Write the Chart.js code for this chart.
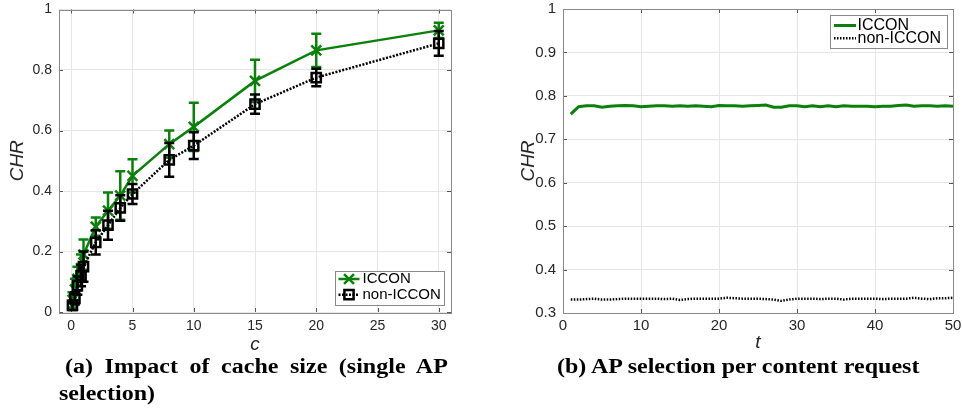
<!DOCTYPE html>
<html>
<head>
<meta charset="utf-8">
<script src="https://cdn.jsdelivr.net/npm/chart.js@4/dist/chart.umd.min.js"></script>
<style>
  html, body { margin: 0; padding: 0; background: #fff; }
  body { width: 962px; height: 411px; position: relative; overflow: hidden; }
  canvas { position: absolute; top: 0; }
  #cacheChart { left: 0; }
  #stepChart { left: 480px; }
  .caption {
    position: absolute;
    font-family: "Liberation Serif", "Times New Roman", serif;
    font-weight: bold;
    font-size: 20px;
    line-height: 27px;
    color: #000;
    transform: scaleX(1.2);
    transform-origin: 0 0;
    white-space: nowrap;
  }
  .just { text-align: justify; text-align-last: justify; white-space: normal; }
</style>
</head>
<body>
<canvas id="cacheChart" width="470" height="360"></canvas>
<canvas id="stepChart" width="482" height="360"></canvas>
<div class="caption just" style="left:65px; top:353px; width:319px;">(a) Impact of cache size (single AP</div>
<div class="caption" style="left:59px; top:380px;">selection)</div>
<div class="caption" style="left:557px; top:353px;">(b) AP selection per content request</div>

<script>
// (a) cache hit ratio against cache size c, mean with error bars
const cacheSizes   = [0.1, 0.3, 0.5, 0.8, 1, 2, 3, 4, 5, 8, 10, 15, 20, 30];
const icconChr     = [0.040, 0.075, 0.110, 0.145, 0.190, 0.282, 0.335, 0.385, 0.450, 0.555, 0.612, 0.764, 0.865, 0.931];
const icconErr     = [0.025, 0.035, 0.040, 0.045, 0.050, 0.030, 0.060, 0.080, 0.055, 0.045, 0.080, 0.070, 0.055, 0.025];
const nonIcconChr  = [0.022, 0.045, 0.087, 0.120, 0.150, 0.230, 0.287, 0.344, 0.390, 0.503, 0.550, 0.687, 0.775, 0.888];
const nonIcconErr  = [0.015, 0.020, 0.030, 0.035, 0.050, 0.040, 0.048, 0.042, 0.033, 0.056, 0.044, 0.032, 0.029, 0.041];
const cacheTicks   = [0, 5, 10, 15, 20, 25, 30];
const chrTicksA    = [0, 0.2, 0.4, 0.6, 0.8, 1];

// (b) cache hit ratio per content request step t
const steps = [1, 2, 3, 4, 5, 6, 7, 8, 9, 10, 11, 12, 13, 14, 15, 16, 17, 18, 19, 20,
               21, 22, 23, 24, 25, 26, 27, 28, 29, 30, 31, 32, 33, 34, 35, 36, 37, 38, 39, 40,
               41, 42, 43, 44, 45, 46, 47, 48, 49, 50];
const icconStep = [0.758, 0.775, 0.777, 0.777, 0.774, 0.776, 0.777, 0.778, 0.777, 0.775,
                   0.776, 0.777, 0.777, 0.776, 0.777, 0.776, 0.777, 0.776, 0.775, 0.778,
                   0.777, 0.777, 0.776, 0.777, 0.778, 0.779, 0.774, 0.774, 0.777, 0.777,
                   0.775, 0.777, 0.775, 0.777, 0.775, 0.777, 0.776, 0.776, 0.776, 0.775,
                   0.776, 0.776, 0.778, 0.779, 0.776, 0.777, 0.777, 0.776, 0.777, 0.776];
const nonIcconStep = [0.331, 0.331, 0.332, 0.333, 0.331, 0.331, 0.332, 0.333, 0.333, 0.333,
                      0.333, 0.333, 0.332, 0.333, 0.330, 0.332, 0.333, 0.333, 0.333, 0.333,
                      0.335, 0.334, 0.333, 0.333, 0.333, 0.332, 0.331, 0.328, 0.331, 0.333,
                      0.333, 0.333, 0.332, 0.333, 0.333, 0.331, 0.333, 0.333, 0.333, 0.333,
                      0.332, 0.333, 0.333, 0.333, 0.335, 0.333, 0.332, 0.334, 0.334, 0.335];
const stepTicks = [0, 10, 20, 30, 40, 50];
const chrTicksB = [0.3, 0.4, 0.5, 0.6, 0.7, 0.8, 0.9, 1];

const seriesNames = ['ICCON', 'non-ICCON'];

const GREEN = '#0b800b';
const BLACK = '#000000';
const TEXT = '#262626';
const GRID = '#e6e6e6';
const EDGE = '#8a8a8a';

const pairs = (xs, ys) => xs.map((x, i) => ({ x: x, y: ys[i] }));
const fmt = v => String(Math.round(v * 10) / 10);

// axis helpers: fixed tick lists and fixed axis box sizes
const useTicks = list => scale => { scale.ticks = list.map(v => ({ value: v })); };
const fixX = h => s => { s.height = h; s.paddingLeft = 0; s.paddingRight = 0; };
const fixY = w => s => { s.width = w; s.paddingTop = 0; s.paddingBottom = 0; };

// box around the plot area with inward tick marks
const frame = {
  id: 'frame',
  beforeDatasetsDraw(chart, args, o) {
    const { ctx, chartArea: a } = chart;
    const xs = chart.scales.x, ys = chart.scales.y;
    ctx.save();
    ctx.lineWidth = 1;
    ctx.strokeStyle = o.tickColor;
    ctx.beginPath();
    xs.ticks.forEach(t => {
      const px = Math.round(xs.getPixelForValue(t.value)) + 0.5;
      ctx.moveTo(px, a.bottom); ctx.lineTo(px, a.bottom - o.tickLen);
      ctx.moveTo(px, a.top); ctx.lineTo(px, a.top + o.tickLen);
    });
    ys.ticks.forEach(t => {
      const py = Math.round(ys.getPixelForValue(t.value)) + 0.5;
      ctx.moveTo(a.left, py); ctx.lineTo(a.left + o.tickLen, py);
      ctx.moveTo(a.right, py); ctx.lineTo(a.right - o.tickLen, py);
    });
    ctx.stroke();
    ctx.strokeStyle = o.color;
    ctx.strokeRect(Math.round(a.left) + 0.5, Math.round(a.top) + 0.5,
                   Math.round(a.right - a.left), Math.round(a.bottom - a.top));
    ctx.restore();
  }
};

// vertical error bars with caps, drawn under each dataset's line and markers
const errorBars = {
  id: 'errorBars',
  beforeDatasetDraw(chart, args, o) {
    const ds = chart.data.datasets[args.index];
    if (!ds.errors) return;
    const { ctx } = chart;
    const xs = chart.scales.x, ys = chart.scales.y;
    ctx.save();
    ctx.strokeStyle = ds.borderColor;
    ctx.lineWidth = o.width;
    ctx.setLineDash([]);
    ctx.beginPath();
    ds.data.forEach((p, i) => {
      const e = ds.errors[i];
      const px = xs.getPixelForValue(p.x);
      const top = ys.getPixelForValue(p.y + e);
      const bot = ys.getPixelForValue(p.y - e);
      ctx.moveTo(px, top); ctx.lineTo(px, bot);
      ctx.moveTo(px - o.cap, top); ctx.lineTo(px + o.cap, top);
      ctx.moveTo(px - o.cap, bot); ctx.lineTo(px + o.cap, bot);
    });
    ctx.stroke();
    ctx.restore();
  }
};

function drawMarker(ctx, style, r, x, y) {
  ctx.beginPath();
  if (style === 'rect') {
    const s = Math.SQRT1_2 * r;
    ctx.rect(x - s, y - s, 2 * s, 2 * s);
  } else if (style === 'crossRot') {
    const s = Math.SQRT1_2 * r;
    ctx.moveTo(x - s, y - s); ctx.lineTo(x + s, y + s);
    ctx.moveTo(x - s, y + s); ctx.lineTo(x + s, y - s);
  }
  ctx.stroke();
}

// boxed legend placed inside a corner of the plot area
const boxLegend = {
  id: 'boxLegend',
  afterDraw(chart, args, o) {
    const { ctx, chartArea: a } = chart;
    const left = a.right - o.inset - o.width;
    const top = o.corner === 'top' ? a.top + o.inset : a.bottom - o.inset - o.height;
    ctx.save();
    ctx.fillStyle = '#fff';
    ctx.fillRect(left, top, o.width, o.height);
    ctx.strokeStyle = o.edge;
    ctx.lineWidth = 1;
    ctx.strokeRect(Math.round(left) + 0.5, Math.round(top) + 0.5, Math.round(o.width), Math.round(o.height));
    ctx.font = o.font;
    ctx.textBaseline = 'middle';
    ctx.textAlign = 'left';
    chart.data.datasets.forEach((ds, i) => {
      const cy = top + o.rowTop + i * o.rowGap;
      ctx.strokeStyle = ds.borderColor;
      ctx.lineWidth = ds.borderWidth;
      ctx.setLineDash(ds.borderDash || []);
      ctx.beginPath();
      ctx.moveTo(left + o.lineFrom, cy);
      ctx.lineTo(left + o.lineTo, cy);
      ctx.stroke();
      ctx.setLineDash([]);
      if (ds.pointRadius > 0) {
        ctx.lineWidth = ds.pointBorderWidth;
        drawMarker(ctx, ds.pointStyle, ds.pointRadius, left + (o.lineFrom + o.lineTo) / 2, cy);
      }
      ctx.fillStyle = o.textColor;
      ctx.fillText(ds.label, left + o.textX, cy);
    });
    ctx.restore();
  }
};

Chart.register(frame, errorBars, boxLegend);

function axisTitle(text, size, pad) {
  return { display: true, text: text, color: TEXT, padding: pad,
           font: { family: '"Liberation Sans", Arial, sans-serif', size: size, style: 'italic' } };
}
function tickFont(size) {
  return { family: '"Liberation Sans", Arial, sans-serif', size: size };
}

new Chart(document.getElementById('cacheChart'), {
  type: 'line',
  data: {
    datasets: [
      {
        label: seriesNames[0],
        data: pairs(cacheSizes, icconChr),
        errors: icconErr,
        borderColor: GREEN,
        borderWidth: 2.5,
        pointStyle: 'crossRot',
        pointRadius: 7,
        pointBorderWidth: 2.5,
        pointBorderColor: GREEN,
        pointBackgroundColor: 'rgba(0,0,0,0)',
        tension: 0,
        order: 1
      },
      {
        label: seriesNames[1],
        data: pairs(cacheSizes, nonIcconChr),
        errors: nonIcconErr,
        borderColor: BLACK,
        borderWidth: 2.5,
        borderDash: [2, 1.5],
        pointStyle: 'rect',
        pointRadius: 6.5,
        pointBorderWidth: 2.5,
        pointBorderColor: BLACK,
        pointBackgroundColor: 'rgba(0,0,0,0)',
        tension: 0,
        order: 0
      }
    ]
  },
  options: {
    responsive: false,
    animation: false,
    layout: { padding: { left: 0, top: 8, right: 19, bottom: 0 } },
    scales: {
      x: {
        type: 'linear', min: -1, max: 31,
        afterBuildTicks: useTicks(cacheTicks),
        afterFit: fixX(48),
        grid: { color: GRID, drawTicks: false },
        border: { display: false },
        ticks: { color: TEXT, font: tickFont(14), padding: 6, maxRotation: 0, autoSkip: false, callback: fmt },
        title: axisTitle('c', 19, { top: 0, bottom: 4 })
      },
      y: {
        type: 'linear', min: 0, max: 1,
        afterBuildTicks: useTicks(chrTicksA),
        afterFit: fixY(59),
        grid: { color: GRID, drawTicks: false },
        border: { display: false },
        ticks: { color: TEXT, font: tickFont(14), padding: 7, autoSkip: false, callback: fmt },
        title: axisTitle('CHR', 19, { top: 6, bottom: 0 })
      }
    },
    plugins: {
      legend: { display: false },
      tooltip: { enabled: false },
      frame: { color: EDGE, tickColor: '#555', tickLen: 4 },
      errorBars: { width: 2.5, cap: 5 },
      boxLegend: {
        corner: 'bottom', inset: 7.5, width: 109, height: 34,
        rowTop: 8.5, rowGap: 15.7, lineFrom: 4, lineTo: 25, textX: 28,
        font: '15px "Liberation Sans", Arial, sans-serif', textColor: '#000', edge: EDGE
      }
    }
  }
});

new Chart(document.getElementById('stepChart'), {
  type: 'line',
  data: {
    datasets: [
      {
        label: seriesNames[0],
        data: pairs(steps, icconStep),
        borderColor: GREEN,
        borderWidth: 3,
        pointRadius: 0,
        tension: 0
      },
      {
        label: seriesNames[1],
        data: pairs(steps, nonIcconStep),
        borderColor: BLACK,
        borderWidth: 2.5,
        borderDash: [1.5, 1.5],
        pointRadius: 0,
        tension: 0
      }
    ]
  },
  options: {
    responsive: false,
    animation: false,
    layout: { padding: { left: 0, top: 9, right: 9, bottom: 0 } },
    scales: {
      x: {
        type: 'linear', min: 0, max: 50,
        afterBuildTicks: useTicks(stepTicks),
        afterFit: fixX(47),
        grid: { color: GRID, drawTicks: false },
        border: { display: false },
        ticks: { color: TEXT, font: tickFont(15), padding: 4, maxRotation: 0, autoSkip: false, callback: fmt },
        title: axisTitle('t', 19, { top: 0, bottom: 6 })
      },
      y: {
        type: 'linear', min: 0.3, max: 1,
        afterBuildTicks: useTicks(chrTicksB),
        afterFit: fixY(83),
        grid: { color: GRID, drawTicks: false },
        border: { display: false },
        ticks: { color: TEXT, font: tickFont(15), padding: 7, autoSkip: false, callback: fmt },
        title: axisTitle('CHR', 19, { top: 37, bottom: 0 })
      }
    },
    plugins: {
      legend: { display: false },
      tooltip: { enabled: false },
      frame: { color: EDGE, tickColor: '#555', tickLen: 4 },
      boxLegend: {
        corner: 'top', inset: 6, width: 117, height: 33,
        rowTop: 10.5, rowGap: 12.7, lineFrom: 4, lineTo: 26, textX: 27.5,
        font: '16px "Liberation Sans", Arial, sans-serif', textColor: '#000', edge: EDGE
      }
    }
  }
});
</script>
</body>
</html>
